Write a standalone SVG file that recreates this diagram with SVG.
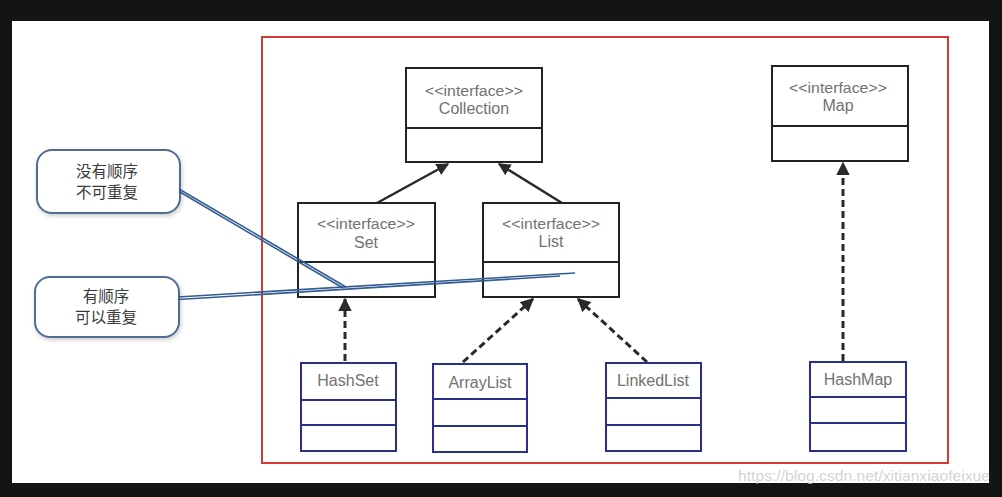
<svg xmlns="http://www.w3.org/2000/svg" width="1002" height="497" viewBox="0 0 1002 497">
<defs>
<style>
.iface{fill:#fff;stroke:#222;stroke-width:2}
.cls{fill:#fff;stroke:#2b2f8c;stroke-width:2}
.t{font-family:"Liberation Sans",Arial,sans-serif;fill:#727272;text-anchor:middle}
.ct{font-family:"Liberation Sans","Noto Sans CJK SC",sans-serif;fill:#3a3a3a;text-anchor:middle;font-size:15.5px}
.callout{fill:#fff;stroke:#4f6d93;stroke-width:2}
.solid{stroke:#2a2a2a;stroke-width:2.5;fill:none}
.dash{stroke:#2a2a2a;stroke-width:3;fill:none;stroke-dasharray:7 4}
.note{stroke:#335c92;stroke-width:1.6;fill:none}
</style>
<marker id="ah" viewBox="0 0 10 10" refX="9" refY="5" markerWidth="5" markerHeight="5" markerUnits="strokeWidth" orient="auto">
<path d="M0,0 L10,5 L0,10 Z" fill="#2a2a2a"/>
</marker>
<marker id="ahd" viewBox="0 0 10 10" refX="9" refY="5" markerWidth="4.5" markerHeight="4.5" markerUnits="strokeWidth" orient="auto">
<path d="M0,0 L10,5 L0,10 Z" fill="#2a2a2a"/>
</marker>
<filter id="sh" x="-10%" y="-10%" width="130%" height="140%">
<feDropShadow dx="1" dy="2" stdDeviation="2" flood-color="#000" flood-opacity="0.2"/>
</filter>
</defs>
<rect x="0" y="0" width="1002" height="497" fill="#141414"/>
<rect x="12" y="21" width="977" height="462" fill="#fff"/>
<rect x="262" y="37" width="686" height="426" fill="none" stroke="#d23a32" stroke-width="2"/>

<g id="connectors">
<line class="solid" x1="377" y1="203" x2="448" y2="164" marker-end="url(#ah)"/>
<line class="solid" x1="562" y1="203" x2="499" y2="164" marker-end="url(#ah)"/>
<line class="dash" x1="345" y1="361" x2="345" y2="299" marker-end="url(#ahd)"/>
<line class="dash" x1="463" y1="362" x2="533" y2="299" marker-end="url(#ahd)"/>
<line class="dash" x1="647" y1="362" x2="578" y2="299" marker-end="url(#ahd)"/>
<line class="dash" x1="843" y1="361" x2="843" y2="163" marker-end="url(#ahd)"/>
</g>

<g id="Collection">
<rect class="iface" x="406" y="68" width="136" height="94"/>
<line class="iface" x1="406" y1="128" x2="542" y2="128"/>
<text class="t" x="474" y="96" font-size="14" textLength="98" lengthAdjust="spacingAndGlyphs">&lt;&lt;interface&gt;&gt;</text>
<text class="t" x="474" y="114" font-size="16">Collection</text>
</g>
<g id="Set">
<rect class="iface" x="298" y="203" width="137" height="94"/>
<line class="iface" x1="298" y1="262" x2="435" y2="262"/>
<text class="t" x="366" y="229" font-size="14" textLength="98" lengthAdjust="spacingAndGlyphs">&lt;&lt;interface&gt;&gt;</text>
<text class="t" x="366" y="248" font-size="16">Set</text>
</g>
<g id="List">
<rect class="iface" x="483" y="203" width="136" height="94"/>
<line class="iface" x1="483" y1="262" x2="619" y2="262"/>
<text class="t" x="551" y="229" font-size="14" textLength="98" lengthAdjust="spacingAndGlyphs">&lt;&lt;interface&gt;&gt;</text>
<text class="t" x="551" y="247" font-size="16">List</text>
</g>
<g id="Map">
<rect class="iface" x="772" y="66" width="136" height="95"/>
<line class="iface" x1="772" y1="126" x2="908" y2="126"/>
<text class="t" x="838" y="93" font-size="14" textLength="98" lengthAdjust="spacingAndGlyphs">&lt;&lt;interface&gt;&gt;</text>
<text class="t" x="838" y="111" font-size="16">Map</text>
</g>
<g id="HashSet">
<rect class="cls" x="301" y="363" width="95" height="88"/>
<line class="cls" x1="301" y1="400" x2="396" y2="400"/>
<line class="cls" x1="301" y1="425" x2="396" y2="425"/>
<text class="t" x="348" y="386" font-size="16">HashSet</text>
</g>
<g id="ArrayList">
<rect class="cls" x="433" y="364" width="94" height="88"/>
<line class="cls" x1="433" y1="399" x2="527" y2="399"/>
<line class="cls" x1="433" y1="426" x2="527" y2="426"/>
<text class="t" x="480" y="388" font-size="16">ArrayList</text>
</g>
<g id="LinkedList">
<rect class="cls" x="606" y="363" width="95" height="88"/>
<line class="cls" x1="606" y1="398" x2="701" y2="398"/>
<line class="cls" x1="606" y1="425" x2="701" y2="425"/>
<text class="t" x="653" y="386" font-size="16">LinkedList</text>
</g>
<g id="HashMap">
<rect class="cls" x="810" y="362" width="96" height="89"/>
<line class="cls" x1="810" y1="397" x2="906" y2="397"/>
<line class="cls" x1="810" y1="423" x2="906" y2="423"/>
<text class="t" x="858" y="385" font-size="16">HashMap</text>
</g>

<g id="note1">
<rect class="callout" x="37" y="150" width="143" height="63" rx="15" ry="15" filter="url(#sh)"/>
<text class="ct" x="107" y="177">没有顺序</text>
<text class="ct" x="107" y="198">不可重复</text>
</g>
<g id="note2">
<rect class="callout" x="35" y="277" width="144" height="60" rx="15" ry="15" filter="url(#sh)"/>
<text class="ct" x="106" y="302">有顺序</text>
<text class="ct" x="106" y="323">可以重复</text>
</g>
<g id="note-lines">
<line class="note" x1="179" y1="189" x2="346" y2="287"/>
<line class="note" x1="179" y1="191.5" x2="343" y2="288"/>
<line class="note" x1="178" y1="297" x2="575" y2="273"/>
<line class="note" x1="178" y1="299.5" x2="560" y2="276"/>
</g>

<text x="738" y="481" font-family="Liberation Sans,Arial,sans-serif" font-size="14" fill="#c8c8c8" fill-opacity="0.8" textLength="252" lengthAdjust="spacingAndGlyphs">https://blog.csdn.net/xitianxiaofeixue</text>
</svg>
